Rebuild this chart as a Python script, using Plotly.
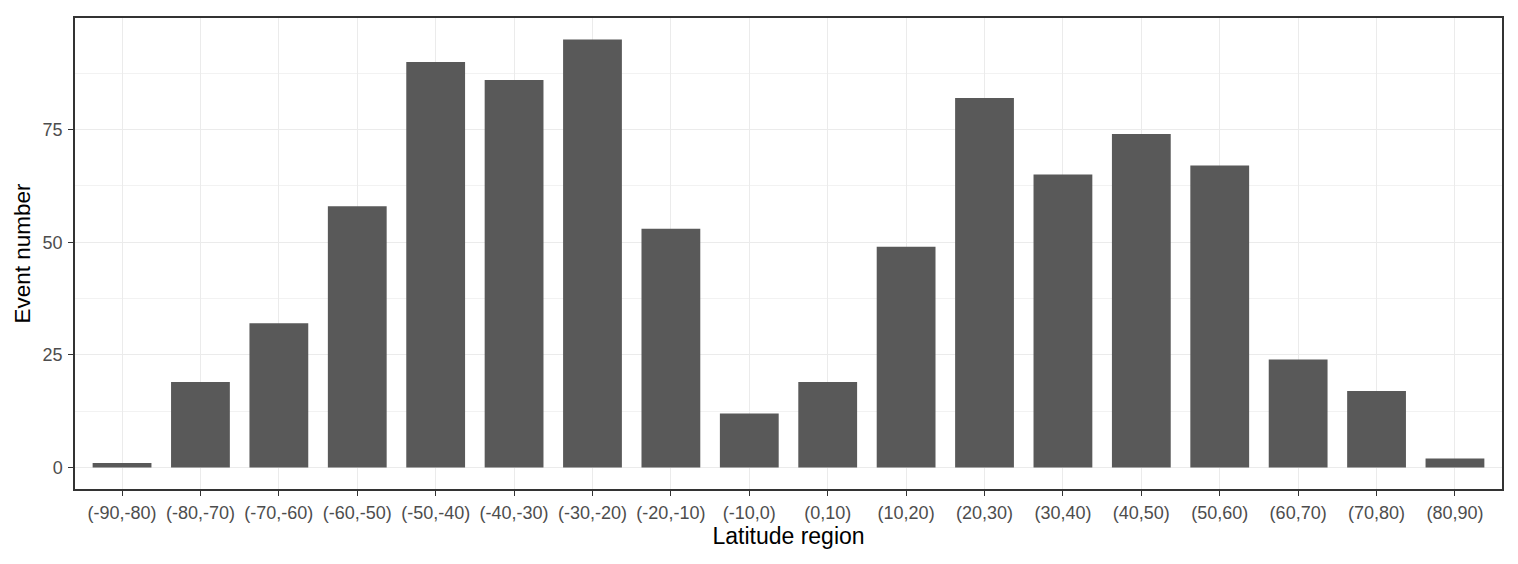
import plotly.graph_objects as go

regions = ["(-90,-80)", "(-80,-70)", "(-70,-60)", "(-60,-50)", "(-50,-40)", "(-40,-30)",
           "(-30,-20)", "(-20,-10)", "(-10,0)", "(0,10)", "(10,20)", "(20,30)",
           "(30,40)", "(40,50)", "(50,60)", "(60,70)", "(70,80)", "(80,90)"]
counts = [1, 19, 32, 58, 90, 86, 95, 53, 12, 19, 49, 82, 65, 74, 67, 24, 17, 2]

fig = go.Figure()
fig.add_trace(go.Bar(x=regions, y=counts, marker=dict(color="#595959", line=dict(width=0)),
                     width=0.75))

font = "Liberation Sans, Arial, sans-serif"
# page body adds an 8px offset, so margins are shifted to compensate
fig.update_layout(
    width=1518, height=564,
    margin=dict(l=67, r=24, t=8, b=83),
    plot_bgcolor="white", paper_bgcolor="white",
    showlegend=False,
    font=dict(family=font, color="#4D4D4D"),
)
fig.update_xaxes(
    range=[-0.6, 17.6],
    title=dict(text="Latitude region", font=dict(size=23, color="black"), standoff=6),
    tickfont=dict(size=18, color="#4D4D4D"),
    ticklabelstandoff=2,
    showgrid=True, gridcolor="#EBEBEB", gridwidth=1,
    ticks="outside", ticklen=5, tickcolor="#333333",
    showline=True, linecolor="#333333", linewidth=1.5, mirror=True,
    zeroline=False,
)
fig.update_yaxes(
    range=[-4.75, 99.75],
    tickvals=[0, 25, 50, 75],
    title=dict(text="Event number", font=dict(size=22.5, color="black"), standoff=6),
    tickfont=dict(size=18, color="#4D4D4D"),
    ticklabelstandoff=2,
    showgrid=True, gridcolor="#EBEBEB", gridwidth=1,
    minor=dict(tickvals=[12.5, 37.5, 62.5, 87.5], showgrid=True, gridcolor="#F2F2F2", gridwidth=1),
    ticks="outside", ticklen=5, tickcolor="#333333",
    showline=True, linecolor="#333333", linewidth=1.5, mirror=True,
    zeroline=False,
)
fig.write_html("out.html")
